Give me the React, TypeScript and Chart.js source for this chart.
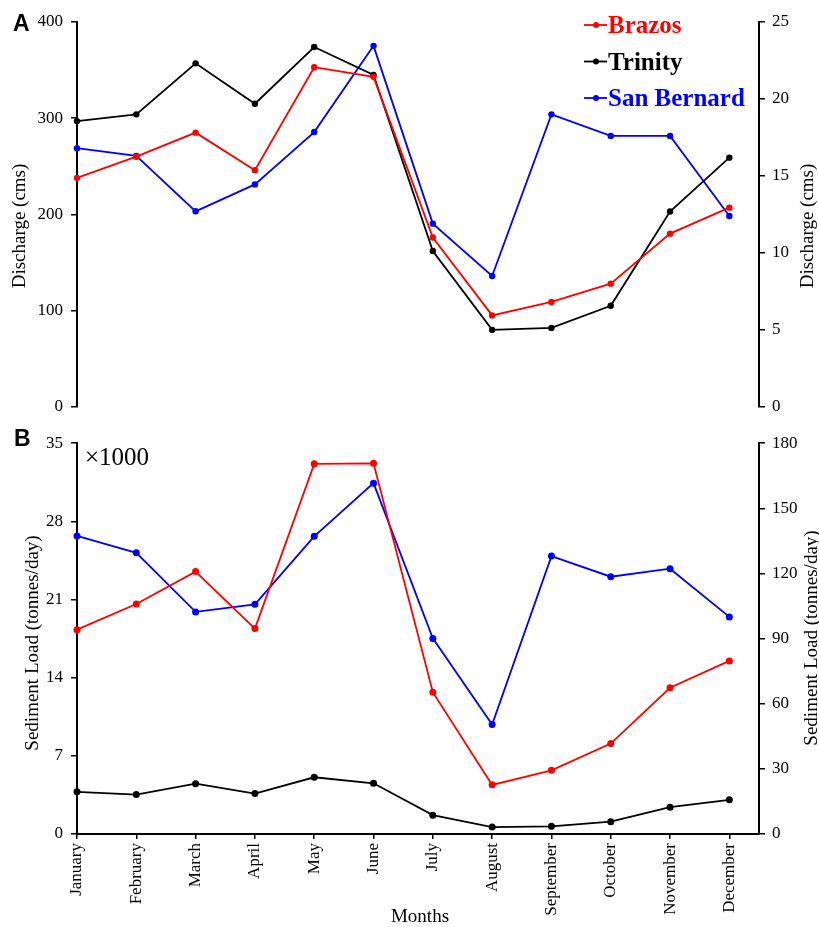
import React, { useEffect, useRef } from 'react';
import { Chart, registerables } from 'chart.js';

Chart.register(...registerables);

// ---------------- Data ----------------
const months = ['January', 'February', 'March', 'April', 'May', 'June', 'July', 'August', 'September', 'October', 'November', 'December'];

const seriesNames = ['Brazos', 'Trinity', 'San Bernard'];
const seriesColors = ['#ff0000', '#000000', '#0000ff'];

// Panel A: discharge (cms)
const brazosDischarge = [238, 260, 285, 246, 353, 343, 176, 95, 109, 128, 180, 207];
const trinityDischarge = [297, 304, 357, 315, 374, 345, 162, 80, 82, 105, 203, 259];
const sanBernardDischarge = [16.8, 16.3, 12.7, 14.45, 17.85, 23.45, 11.9, 8.5, 19.0, 17.6, 17.6, 12.4];

// Panel B: sediment load (tonnes/day) - left axis x1000
const brazosSediment = [18.3, 20.6, 23.5, 18.4, 33.15, 33.2, 12.7, 4.4, 5.7, 8.1, 13.1, 15.5];
const trinitySediment = [3.78, 3.53, 4.51, 3.62, 5.08, 4.54, 1.69, 0.62, 0.69, 1.1, 2.4, 3.06];
const sanBernardSediment = [137.3, 129.5, 102.3, 105.8, 137.1, 161.6, 90.1, 50.4, 128, 118.5, 122.2, 100];

// Tick values
const dischargeLeftTicks = [0, 100, 200, 300, 400];
const dischargeRightTicks = [0, 5, 10, 15, 20, 25];
const sedimentLeftTicks = [0, 7, 14, 21, 28, 35];
const sedimentRightTicks = [0, 30, 60, 90, 120, 150, 180];

// ---------------- Helpers ----------------
const SERIF = "'Liberation Serif', 'Times New Roman', serif";
const SANS = "'Liberation Sans', Arial, sans-serif";

const toXY = (values: number[]) => values.map((y, i) => ({ x: i, y }));

function lineDataset(i: number, values: number[], axis: string, radius: number) {
  return {
    label: seriesNames[i],
    data: toXY(values),
    borderColor: seriesColors[i],
    backgroundColor: seriesColors[i],
    pointBackgroundColor: seriesColors[i],
    pointBorderColor: seriesColors[i],
    pointBorderWidth: 0,
    borderWidth: 1.8,
    pointRadius: radius,
    pointHoverRadius: radius,
    yAxisID: axis,
    clip: false as any,
    tension: 0,
  };
}

function yAxis(position: 'left' | 'right', ticks: number[], width: number) {
  return {
    type: 'linear' as const,
    position,
    min: ticks[0],
    max: ticks[ticks.length - 1],
    ticks: {
      stepSize: ticks[1] - ticks[0],
      color: '#000',
      padding: position === 'left' ? 8 : 7,
      font: { family: SERIF, size: 17 },
    },
    grid: { display: true, drawOnChartArea: false, drawTicks: true, tickLength: 6, color: '#000', lineWidth: 1.5 },
    border: { display: true, color: '#000', width: 2 },
    afterFit: (s: any) => { s.width = width; },
  };
}

function xAxis(show: boolean, height: number) {
  return {
    type: 'linear' as const,
    position: 'bottom' as const,
    display: show,
    min: 0,
    max: months.length - 0.5,
    ticks: {
      stepSize: 1,
      autoSkip: false,
      minRotation: 90,
      maxRotation: 90,
      padding: 4,
      color: '#000',
      font: { family: SERIF, size: 17 },
      callback: (v: any) => months[v] ?? '',
    },
    grid: { display: true, drawOnChartArea: false, drawTicks: true, tickLength: 5, color: '#000', lineWidth: 1.5 },
    border: { display: true, color: '#000', width: 2 },
    afterBuildTicks: (s: any) => { s.ticks = s.ticks.filter((t: any) => Number.isInteger(t.value)); },
    afterFit: (s: any) => { s.height = height; },
  };
}

type Txt = { text: string; x: number; y: number; font: string; color?: string; align?: CanvasTextAlign; baseline?: CanvasTextBaseline; rotate?: number };

const textPlugin = {
  id: 'texts',
  afterDraw(chart: any, _args: any, opts: any) {
    const ctx = chart.ctx as CanvasRenderingContext2D;
    const texts: Txt[] = opts.texts || [];
    for (const t of texts) {
      ctx.save();
      ctx.font = t.font;
      ctx.fillStyle = t.color || '#000';
      ctx.textAlign = t.align || 'left';
      ctx.textBaseline = t.baseline || 'alphabetic';
      ctx.translate(t.x, t.y);
      if (t.rotate) ctx.rotate(t.rotate);
      ctx.fillText(t.text, 0, 0);
      ctx.restore();
    }
    if (opts.legend) {
      const { x, y, gap } = opts.legend;
      chart.data.datasets.forEach((ds: any, i: number) => {
        const cy = y + i * gap;
        ctx.save();
        ctx.strokeStyle = ds.borderColor;
        ctx.fillStyle = ds.borderColor;
        ctx.lineWidth = 1.8;
        ctx.beginPath();
        ctx.moveTo(x, cy);
        ctx.lineTo(x + 23, cy);
        ctx.stroke();
        ctx.beginPath();
        ctx.arc(x + 12, cy, 3, 0, Math.PI * 2);
        ctx.fill();
        ctx.font = `bold 25px ${SERIF}`;
        ctx.textAlign = 'left';
        ctx.textBaseline = 'alphabetic';
        ctx.fillText(ds.label, x + 24, cy + 8);
        ctx.restore();
      });
    }
  },
};

function baseOptions(scales: any, texts: Txt[], padding: any, legend?: any) {
  return {
    responsive: false,
    animation: false as const,
    devicePixelRatio: 1,
    layout: { padding },
    scales,
    plugins: {
      legend: { display: false },
      tooltip: { enabled: false },
      texts: { texts, legend },
    },
    events: [] as any[],
  };
}

export default function App() {
  const refA = useRef<HTMLCanvasElement>(null);
  const refB = useRef<HTMLCanvasElement>(null);

  useEffect(() => {
    const chartA = new Chart(refA.current!, {
      type: 'line',
      data: {
        datasets: [
          lineDataset(0, brazosDischarge, 'yL', 3.2),
          lineDataset(1, trinityDischarge, 'yL', 3.2),
          lineDataset(2, sanBernardDischarge, 'yR', 3.2),
        ],
      },
      options: baseOptions(
        {
          x: xAxis(false, 0),
          yL: yAxis('left', dischargeLeftTicks, 77),
          yR: yAxis('right', dischargeRightTicks, 60),
        },
        [
          { text: 'A', x: 13, y: 31, font: `bold 23px ${SANS}` },
          { text: 'Discharge (cms)', x: 20, y: 226, font: `19px ${SERIF}`, align: 'center', baseline: 'middle', rotate: -Math.PI / 2 },
          { text: 'Discharge (cms)', x: 808, y: 226, font: `19px ${SERIF}`, align: 'center', baseline: 'middle', rotate: -Math.PI / 2 },
        ],
        { top: 22, bottom: 9, left: 0, right: 0 },
        { x: 584, y: 25, gap: 36.5 }
      ) as any,
      plugins: [textPlugin],
    });

    const chartB = new Chart(refB.current!, {
      type: 'line',
      data: {
        datasets: [
          lineDataset(0, brazosSediment, 'yL', 3.5),
          lineDataset(1, trinitySediment, 'yL', 3.5),
          lineDataset(2, sanBernardSediment, 'yR', 3.5),
        ],
      },
      options: baseOptions(
        {
          x: xAxis(true, 93),
          yL: yAxis('left', sedimentLeftTicks, 77),
          yR: yAxis('right', sedimentRightTicks, 60),
        },
        [
          { text: 'B', x: 14, y: 21, font: `bold 23px ${SANS}` },
          { text: '×1000', x: 85, y: 40, font: `25px ${SERIF}` },
          { text: 'Sediment Load (tonnes/day)', x: 33, y: 218, font: `19px ${SERIF}`, align: 'center', baseline: 'middle', rotate: -Math.PI / 2 },
          { text: 'Sediment Load (tonnes/day)', x: 812, y: 213, font: `19px ${SERIF}`, align: 'center', baseline: 'middle', rotate: -Math.PI / 2 },
          { text: 'Months', x: 420, y: 497, font: `19px ${SERIF}`, align: 'center' },
        ],
        { top: 16, bottom: 0, left: 0, right: 0 }
      ) as any,
      plugins: [textPlugin],
    });

    return () => {
      chartA.destroy();
      chartB.destroy();
    };
  }, []);

  return (
    <div style={{ position: 'absolute', left: 0, top: 0, width: 819, height: 927, background: '#fff' }}>
      <canvas ref={refA} width={819} height={425} style={{ position: 'absolute', left: 0, top: 0, width: 819, height: 425 }} />
      <canvas ref={refB} width={819} height={502} style={{ position: 'absolute', left: 0, top: 425, width: 819, height: 502 }} />
    </div>
  );
}
